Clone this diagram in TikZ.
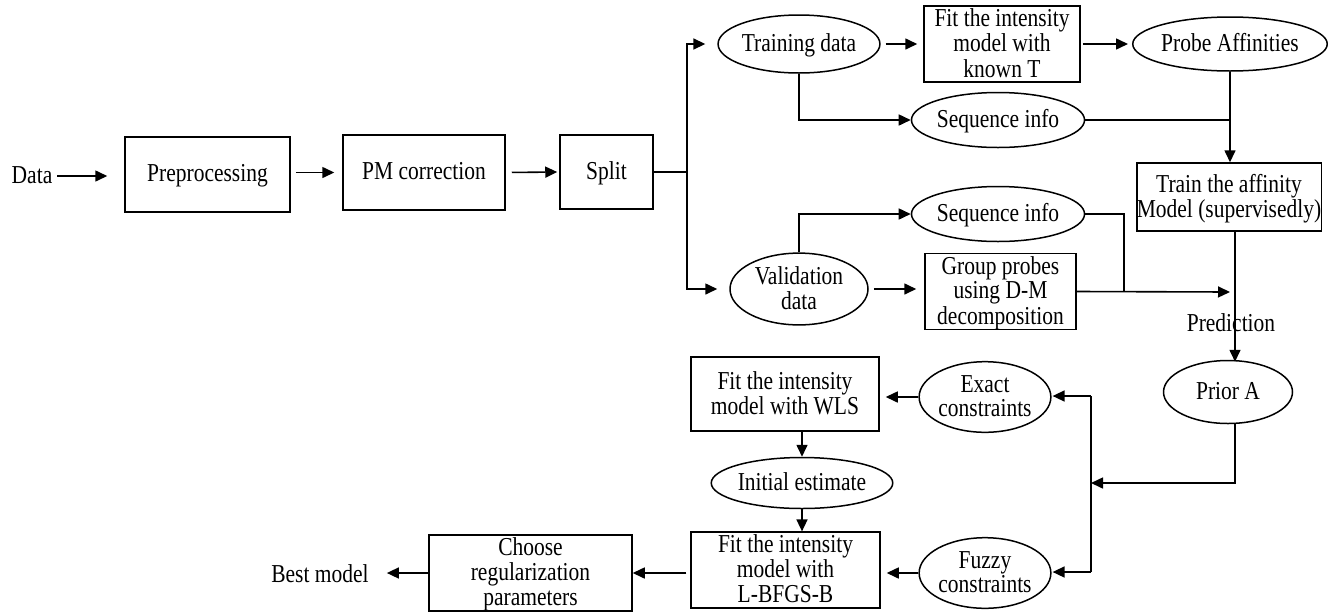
\documentclass[tikz,border=0pt]{standalone}
\usepackage{fontspec}
\setmainfont{Liberation Serif}
\usetikzlibrary{shapes.geometric,arrows.meta}
\newcommand\tx[1]{\raisebox{-2.5pt}[\height][\depth]{\scalebox{1}[1.2]{\begin{tabular}{@{}c@{}}#1\end{tabular}}}}
\begin{document}
\begin{tikzpicture}[x=1pt,y=-1pt,
  every node/.style={font=\fontsize{21.5}{20.8}\selectfont},
  box/.style={draw,rectangle,line width=1.5pt,inner sep=0pt,align=center},
  oval/.style={draw,ellipse,line width=1.5pt,inner sep=0pt,align=center},
  plain/.style={inner sep=0pt},
  conn/.style={line width=1.6pt},
  arr/.style={line width=1.6pt,-{Triangle[length=12pt,width=11pt]}}]
\useasboundingbox (0,0) rectangle (1328,611);
% nodes
\node[plain] (data) at (32,176) {\tx{Data}};
\node[box,minimum width=165pt,minimum height=75pt] (pre) at (207.5,174.5) {\tx{Preprocessing}};
\node[box,minimum width=162pt,minimum height=75pt] (pm) at (424,172.5) {\tx{PM correction}};
\node[box,minimum width=93pt,minimum height=74pt] (split) at (606.5,172) {\tx{Split}};
\node[oval,minimum width=138pt,minimum height=58pt] (train) at (799,44) {\tx{Training data}};
\node[box,minimum width=156pt,minimum height=74pt] (fit1) at (1002,44) {\tx{Fit the intensity\\model with\\known T}};
\node[oval,minimum width=178pt,minimum height=54pt] (probe) at (1230,44) {\tx{Probe Affinities}};
\node[oval,minimum width=150pt,minimum height=55pt] (seq1) at (998,120) {\tx{Sequence info}};
\node[box,minimum width=182pt,minimum height=68pt] (tbox) at (1229,197) {\tx{Train the affinity\\Model (supervisedly)}};
\node[oval,minimum width=150pt,minimum height=55pt] (seq2) at (998,214) {\tx{Sequence info}};
\node[oval,minimum width=138pt,minimum height=58pt] (valid) at (799,289) {\tx{Validation\\data}};
\node[box,minimum width=151pt,minimum height=73pt] (group) at (1000.5,291.5) {\tx{Group probes\\using D-M\\decomposition}};
\node[plain] (pred) at (1231,324) {\tx{Prediction}};
\node[oval,minimum width=129pt,minimum height=63pt] (prior) at (1228,392) {\tx{Prior A}};
\node[oval,minimum width=127pt,minimum height=64pt] (exact) at (985,397) {\tx{Exact\\constraints}};
\node[oval,minimum width=127pt,minimum height=64pt] (fuzzy) at (985,573) {\tx{Fuzzy\\constraints}};
\node[box,minimum width=188pt,minimum height=74pt] (wls) at (785,394) {\tx{Fit the intensity\\model with WLS}};
\node[oval,minimum width=166pt,minimum height=51pt] (init) at (802,483) {\tx{Initial estimate}};
\node[box,minimum width=189pt,minimum height=74pt] (lbfgs) at (785.5,570) {\tx{Fit the intensity\\model with\\L-BFGS-B}};
\node[box,minimum width=203pt,minimum height=74pt] (choose) at (530.5,573) {\tx{Choose\\regularization\\parameters}};
\node[plain] (best) at (320,575) {\tx{Best model}};
% helper coordinates
\coordinate (fork) at (687,172);
\coordinate (gj) at (1230,292);
\coordinate (k2) at (1124,292);
\coordinate (j3) at (1091,483);
\coordinate (vtop) at (1091,396);
\coordinate (vbot) at (1091,572);
% connectors
\draw[arr,shorten <=5pt,shorten >=17pt] (data.east) -- (data.east -| pre.west);
\draw[arr,shorten <=5pt,shorten >=8pt] (pre.east |- pm.west) -- (pm.west);
\draw[arr,shorten <=6pt,shorten >=2pt] (pm.east) -- (split.west);
\draw[conn] (split.east) -- (fork);
\draw[arr,shorten >=12pt] (fork) |- (train.west);
\draw[arr,shorten >=12pt] (fork) |- (valid.west);
\draw[arr,shorten <=5pt,shorten >=6pt] (train.east) -- (fit1.west);
\draw[arr,shorten <=2pt,shorten >=4pt] (fit1.east) -- (probe.west);
\draw[arr] (train.south) |- (seq1.west);
\draw[conn] (seq1.east) -- (seq1.east -| probe.south);
\draw[arr] (probe.south) -- (probe.south |- tbox.north);
\draw[arr] (valid.north) |- (seq2.west);
\draw[arr,shorten <=5pt,shorten >=8pt] (valid.east) -- (valid.east -| group.west);
\draw[conn] (seq2.east) -| (k2);
\draw[arr] (group.east) -- (gj);
\draw[arr,shorten >=-2pt] ([xshift=6pt]tbox.south) -- ([xshift=6pt]tbox.south |- prior.north);
\draw[arr] ([xshift=6pt]tbox.south |- prior.south) |- (j3);
\draw[conn] (vtop) -- (vbot);
\draw[arr,shorten >=1pt] (vtop) -- (vtop -| exact.east);
\draw[arr,shorten >=1pt] (vbot) -- (vbot -| fuzzy.east);
\draw[arr,shorten >=6pt] (exact.west) -- (exact.west -| wls.east);
\draw[arr,shorten >=6pt] (fuzzy.west) -- (fuzzy.west -| lbfgs.east);
\draw[arr] (wls.south -| init.north) -- (init.north);
\draw[arr] (init.south) -- (init.south |- lbfgs.north);
\draw[arr,shorten <=4pt] (lbfgs.west |- choose.east) -- (choose.east);
\draw[arr,shorten >=18pt] (choose.west) -- (choose.west -| best.east);
\end{tikzpicture}
\end{document}
